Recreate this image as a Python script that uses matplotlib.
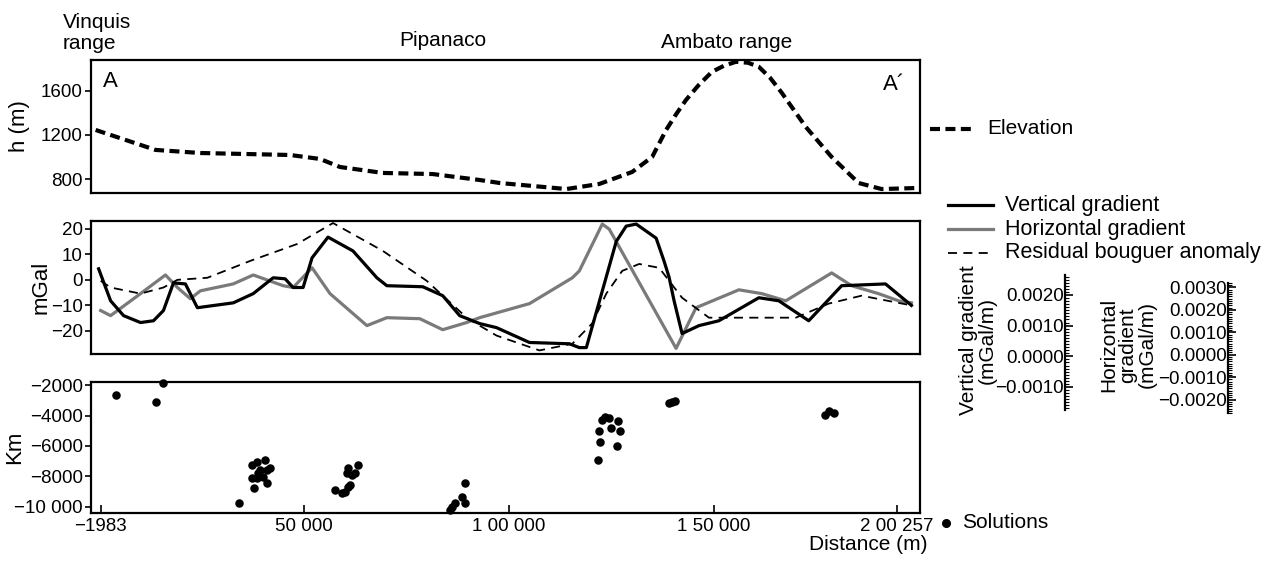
import matplotlib.pyplot as plt
from matplotlib.ticker import MultipleLocator
from matplotlib.lines import Line2D

plt.rcParams['font.family'] = ['Liberation Sans', 'DejaVu Sans']
plt.rcParams['axes.linewidth'] = 1.6

# elevation profile (distance in m, height in m)
elev_x = [-850, 13748, 24697, 46594, 53893, 58759, 69221, 81386, 92821, 97687,
          113988, 122017, 130046, 134912, 138318, 140800, 143184, 146300, 149510,
          152400, 155349, 158300, 160945, 163700, 166541, 172380, 178706, 185275,
          190871, 199143]
elev_h = [1245, 1064, 1036, 1018, 982, 909, 855, 845, 791, 764,
          709, 755, 864, 1000, 1245, 1390, 1518, 1654, 1773,
          1827, 1864, 1855, 1818, 1718, 1582, 1273, 1000, 764,
          709, 718]

# vertical gradient (mGal)
vg_x = [-120, 2800, 5963, 10099, 13262, 15695, 18128, 21047, 23967, 32726,
        37592, 42458, 45377, 47324, 49757, 51946, 55839, 61922, 67761, 70194,
        78953, 83819, 87955, 92821, 96957, 104986, 114718, 117151, 118854, 126153,
        128586, 131019, 135885, 137800, 139048, 140264, 142211, 146347, 151213, 160945,
        165811, 173110, 181139, 191844, 198170]
vg_v = [4.3, -8.2, -14, -16.7, -16, -12, -1.2, -1.6, -10.9, -9,
        -5.4, 0.8, 0.4, -3, -3, 8.6, 16.7, 11.3, 0.8, -2.3,
        -2.7, -6.2, -14, -17.1, -18.7, -24.5, -25, -26.5, -26.5, 15,
        21, 21.8, 16.3, 7.4, 1.0, -8.2, -21, -17.9, -16, -7,
        -8.2, -16, -2.3, -1.6, -10]

# horizontal gradient (mGal)
hg_x = [367, 2800, 10099, 16181, 19101, 22264, 24697, 32726, 37592, 44891,
        47324, 51946, 56326, 65328, 70194, 78223, 83819, 89658, 92821, 104986,
        115448, 117151, 122747, 124450, 140751, 145617, 156079, 161675, 167514, 178706,
        183572, 190141, 195007, 198170]
hg_v = [-12, -14, -5.4, 1.9, -3, -7.4, -4.3, -1.6, 1.9, -2.3,
        -3, 4.7, -5.4, -17.9, -14.8, -15.2, -19.5, -16.7, -14.8, -9.3,
        0.8, 3.5, 21.8, 19.8, -26.8, -10.9, -3.9, -5.4, -8.2, 2.7,
        -2.3, -5.4, -8.2, -9]

# residual bouguer anomaly (mGal)
rb_x = [367, 2800, 10099, 15695, 19101, 26400, 36862, 48297, 57056, 69221,
        79926, 89658, 92821, 96957, 107419, 115448, 120314, 123720, 127613, 131749,
        136615, 142211, 148780, 169947, 177976, 186005, 198170]
rb_v = [-0.4, -3, -5.4, -3, 0, 0.8, 7.4, 14, 22.2, 11.3,
        -0.4, -14.8, -17.9, -21.8, -27.6, -25, -17, -5.4, 3.5, 6.2,
        4.7, -7, -14.8, -14.8, -9.3, -6.2, -10]

# Euler solutions (distance, depth)
sol_x = [4016, 13992, 15695, 34185,
         37348, 38565, 40511, 40998, 41728, 37348, 38808, 40025, 40998, 37835, 39295, 38565,
         57542, 59245, 59975, 60705, 61192, 60462, 60705, 61678, 62408, 63138,
         85522, 86008, 86738, 88441, 89171, 89171,
         121774, 122260, 122017, 122747, 123477, 124450, 124936, 126640, 127126, 126396,
         139048, 139778, 140508,
         177003, 177976, 179192]
sol_z = [-2656, -3115, -1870, -9740,
         -7250, -7050, -6920, -7580, -7450, -8100, -7770, -8030, -8430, -8760, -7580, -8100,
         -8890, -9085, -9020, -8690, -8560, -7770, -7450, -7900, -7770, -7250,
         -10200, -10000, -9740, -9350, -8430, -9740,
         -6920, -5740, -5020, -4300, -4100, -4170, -4820, -4360, -5020, -6000,
         -3180, -3115, -3050,
         -3970, -3700, -3840]

x_ticks = [400, 50000, 100000, 150000, 194600]
x_labels = ['\u22121983', '50 000', '1 00 000', '1 50 000', '2 00 257']

fig = plt.figure(figsize=(12.74, 5.62), dpi=100)
W, H = 1274, 562


def box(l, t, r, b):
    return [l / W, 1 - b / H, (r - l) / W, (b - t) / H]


ax1 = fig.add_axes(box(91, 60, 920, 193))
ax2 = fig.add_axes(box(91, 221, 920, 354))
ax3 = fig.add_axes(box(91, 382, 920, 513))

for ax in (ax1, ax2, ax3):
    ax.set_xlim(-1983, 200257)
    ax.tick_params(axis='y', direction='out', labelsize=13.5, length=4, width=1.2, pad=2)
    ax.tick_params(axis='x', direction='in', labelsize=13.5, length=6, width=1.2)

# --- 1. elevation ---
ax1.plot(elev_x, elev_h, color='black', lw=3, linestyle=(0, (2.4, 1.3)))
ax1.set_ylim(673, 1880)
ax1.set_yticks([800, 1200, 1600])
ax1.set_xticks([])
ax1.set_ylabel('h (m)', fontsize=16)
ax1.yaxis.set_label_coords(-0.0736, 0.5)
ax1.text(0.0145, 0.797, 'A', transform=ax1.transAxes, fontsize=16, va='baseline')
ax1.text(0.955, 0.774, 'A\u00b4', transform=ax1.transAxes, fontsize=16, va='baseline')

# --- 2. gradients ---
ax2.plot(hg_x, hg_v, color='#7a7a7a', lw=2.3)
ax2.plot(rb_x, rb_v, color='black', lw=1.3, linestyle=(0, (5, 3.5)))
ax2.plot(vg_x, vg_v, color='black', lw=2.3)
ax2.set_ylim(-29, 23)
ax2.set_yticks([-20, -10, 0, 10, 20])
ax2.set_xticks([])
ax2.set_ylabel('mGal', fontsize=16)
ax2.yaxis.set_label_coords(-0.047, 0.5)

# --- 3. solutions ---
ax3.scatter(sol_x, sol_z, s=26, color='black', zorder=3, clip_on=False)
ax3.set_ylim(-10400, -1800)
ax3.set_yticks([-10000, -8000, -6000, -4000, -2000])
ax3.set_yticklabels(['\u221210 000', '\u22128000', '\u22126000', '\u22124000', '\u22122000'])
ax3.set_xticks(x_ticks)
ax3.set_xticklabels(x_labels)
ax3.set_ylabel('Km', fontsize=16)
ax3.yaxis.set_label_coords(-0.0796, 0.5)
fig.text(927 / W, 1 - 545 / H, 'Distance (m)', ha='right', va='center', fontsize=15)

# place names
fig.text(63 / W, 1 - 33 / H, 'Vinquis\nrange', ha='left', va='center', fontsize=15,
         linespacing=1.15)
fig.text(443 / W, 1 - 40 / H, 'Pipanaco', ha='center', va='center', fontsize=15)
fig.text(727 / W, 1 - 42 / H, 'Ambato range', ha='center', va='center', fontsize=15)


# legends drawn in figure coords
def leg_line(x0, x1, y, **kw):
    fig.add_artist(Line2D([x0 / W, x1 / W], [1 - y / H, 1 - y / H], **kw))


leg_line(930, 976, 129, color='black', lw=3, linestyle=(0, (2.4, 1.3)))
fig.text(987 / W, 1 - 129 / H, 'Elevation', va='center', fontsize=15)

leg_line(948, 993, 205, color='black', lw=2.3)
fig.text(1005 / W, 1 - 205 / H, 'Vertical gradient', va='center', fontsize=15.5)
leg_line(948, 993, 229, color='#7a7a7a', lw=2.3)
fig.text(1005 / W, 1 - 229 / H, 'Horizontal gradient', va='center', fontsize=15.5)
leg_line(948, 993, 253, color='black', lw=1.3, linestyle=(0, (5, 3.5)))
fig.text(1005 / W, 1 - 253 / H, 'Residual bouguer anomaly', va='center', fontsize=15.5)

fig.add_artist(Line2D([946 / W], [1 - 523 / H], marker='o', markersize=5.5,
                      color='black', lw=0))
fig.text(962 / W, 1 - 523 / H, 'Solutions', va='center', fontsize=15)

# gradient scale bars
axv = fig.add_axes(box(1065, 275, 1066, 410))
axv.set_ylim(-0.00175, 0.00265)
axv.set_yticks([-0.001, 0.0, 0.001, 0.002])
axv.set_yticklabels(['\u22120.0010', '0.0000', '0.0010', '0.0020'])
axv.yaxis.set_minor_locator(MultipleLocator(0.0001))
axv.set_xticks([])
for s in ('top', 'bottom', 'right'):
    axv.spines[s].set_visible(False)
axv.tick_params(axis='y', which='major', direction='in', length=6, width=1.2,
                labelsize=13.5, pad=1)
axv.tick_params(axis='y', which='minor', direction='in', length=3, width=0.8)
fig.text(978 / W, 1 - 340 / H, 'Vertical gradient\n(mGal/m)', rotation=90,
         ha='center', va='center', fontsize=15, linespacing=1.0)

axh = fig.add_axes(box(1228, 283, 1229, 413))
axh.set_ylim(-0.0026, 0.0032)
axh.set_yticks([-0.002, -0.001, 0.0, 0.001, 0.002, 0.003])
axh.set_yticklabels(['\u22120.0020', '\u22120.0010', '0.0000', '0.0010', '0.0020', '0.0030'])
axh.yaxis.set_minor_locator(MultipleLocator(0.0001))
axh.set_xticks([])
for s in ('top', 'bottom', 'right'):
    axh.spines[s].set_visible(False)
axh.tick_params(axis='y', which='major', direction='in', length=6, width=1.2,
                labelsize=13.5, pad=1)
axh.tick_params(axis='y', which='minor', direction='in', length=3, width=0.8)
fig.text(1128 / W, 1 - 345 / H, 'Horizontal\ngradient\n(mGal/m)', rotation=90,
         ha='center', va='center', fontsize=15, linespacing=1.0)

fig.savefig('out.png', dpi=100)
